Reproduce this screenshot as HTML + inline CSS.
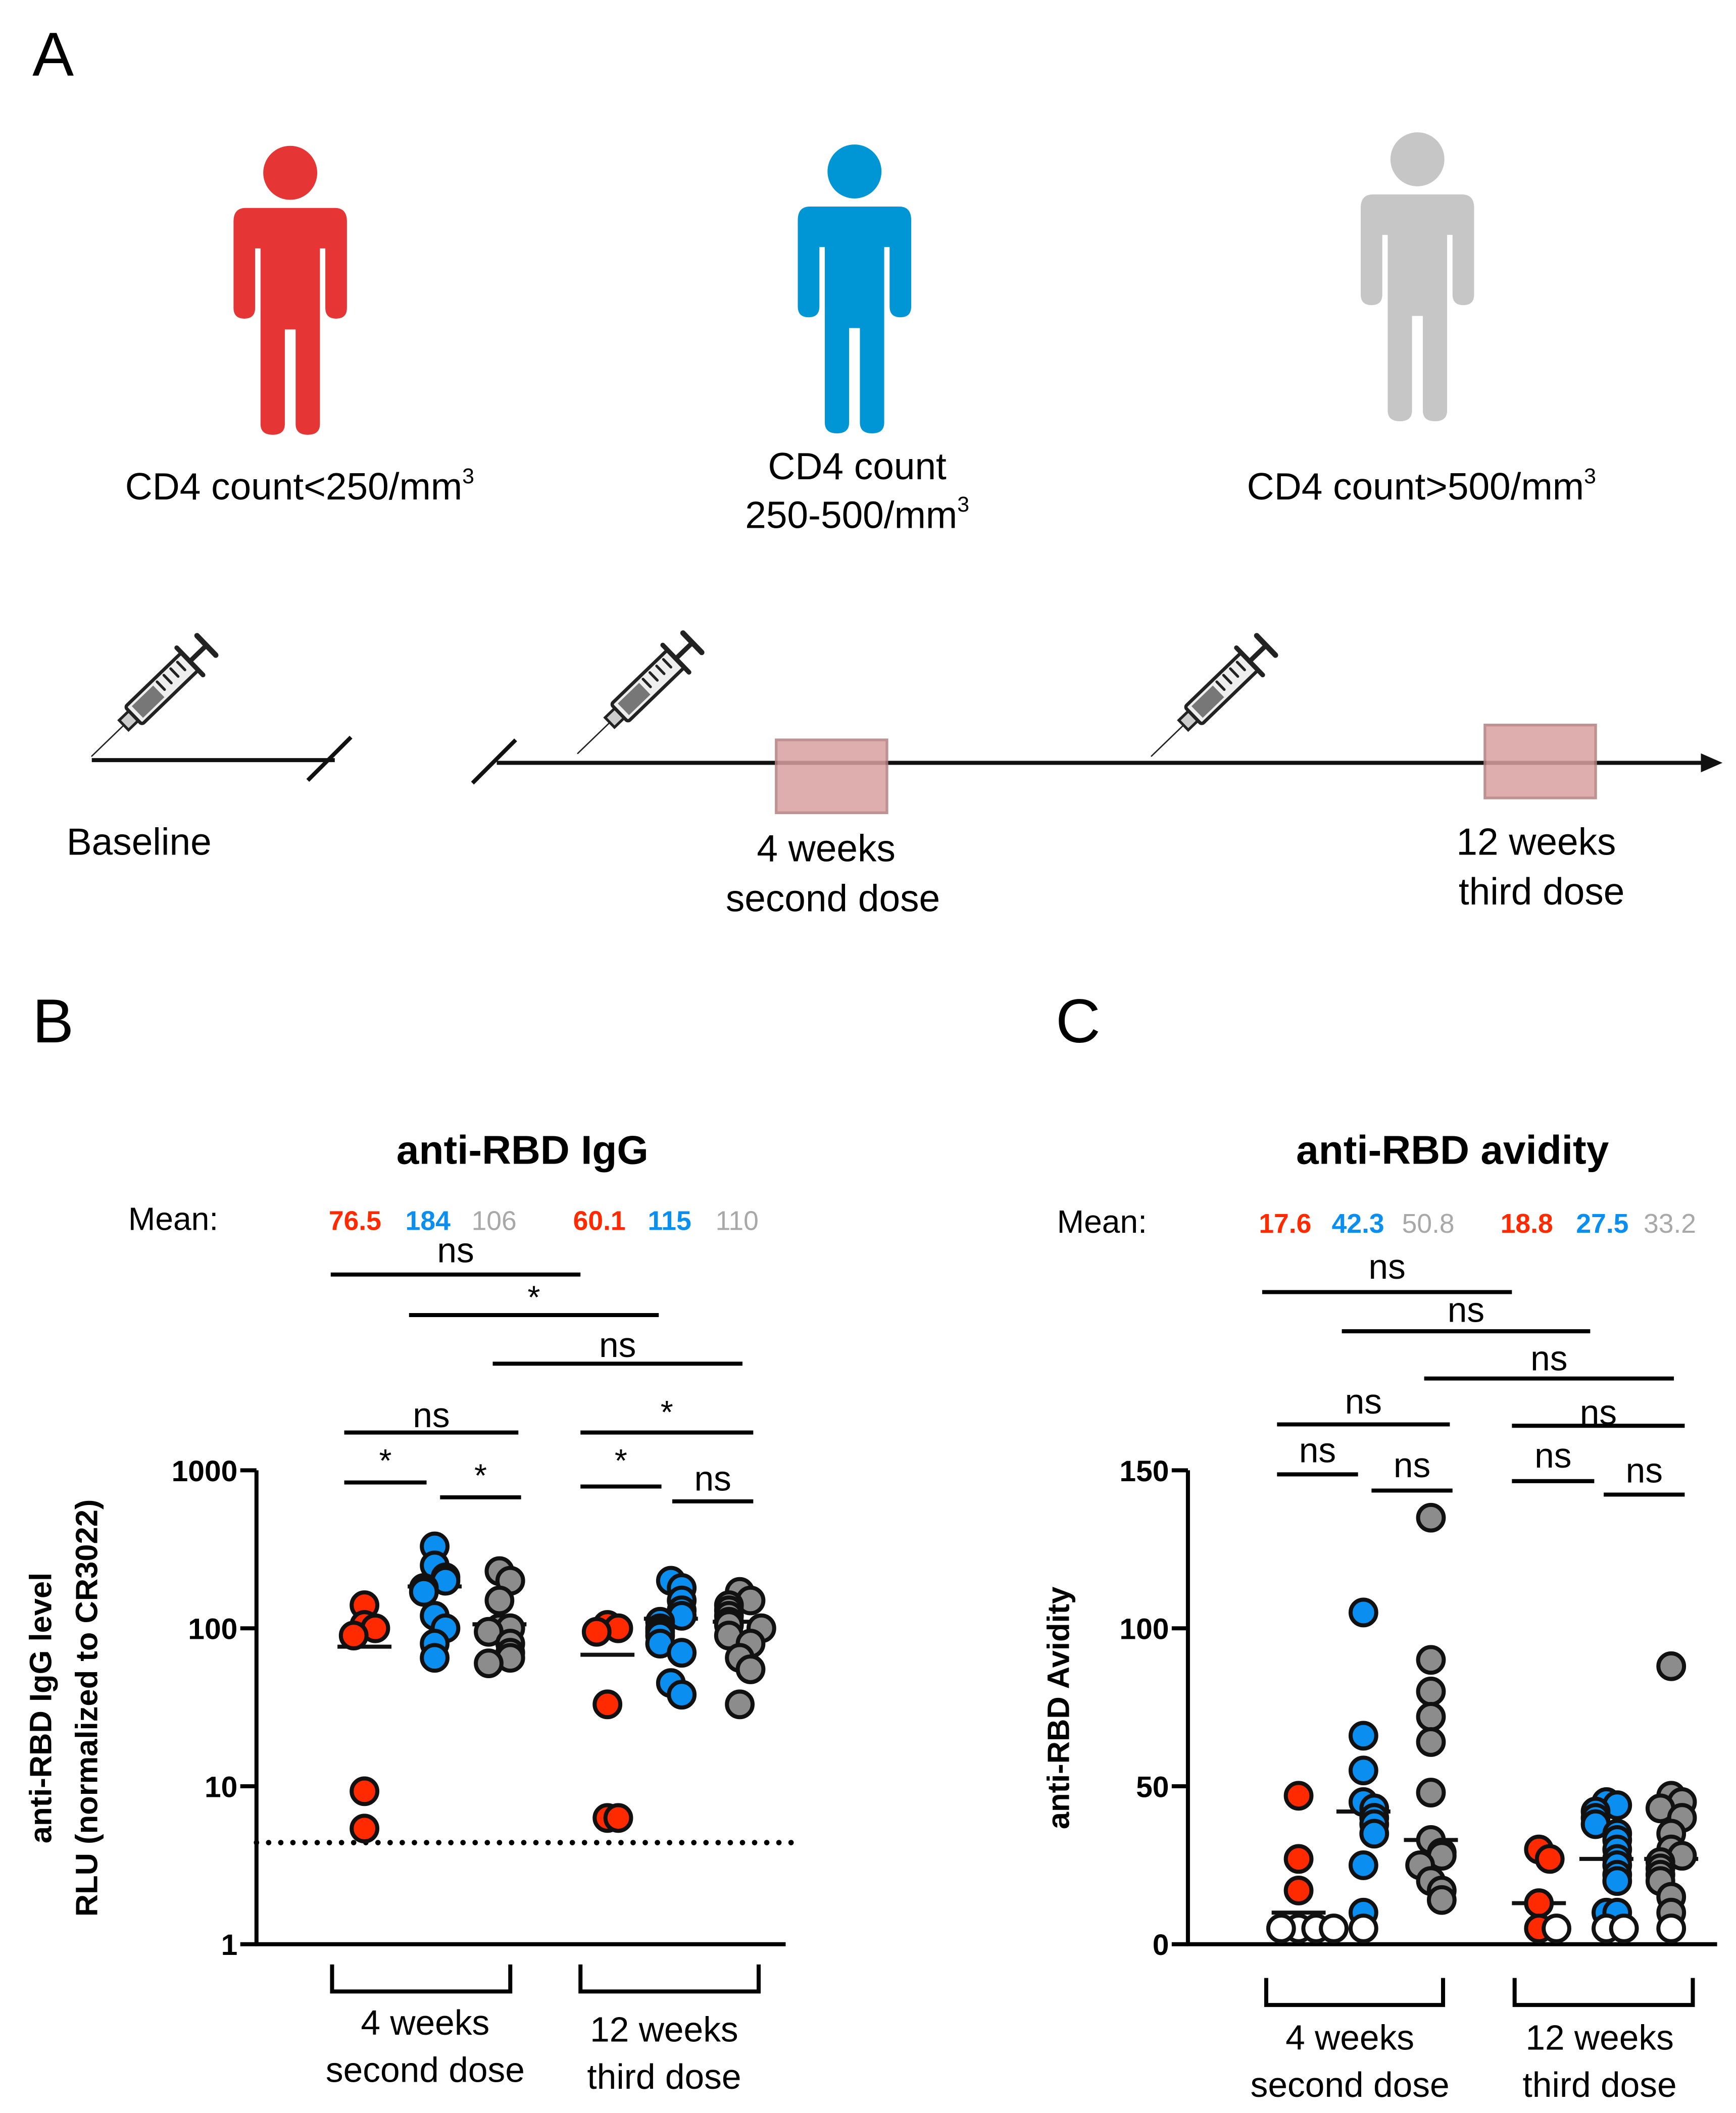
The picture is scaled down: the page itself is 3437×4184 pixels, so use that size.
<!DOCTYPE html>
<html><head><meta charset="utf-8"><style>
html,body{margin:0;padding:0;background:#fff}
svg{display:block}
text{font-family:"Liberation Sans",sans-serif}
</style></head><body>
<svg id="fig" width="3437" height="4184" viewBox="0 0 1286 1565" preserveAspectRatio="none" xmlns="http://www.w3.org/2000/svg">
<rect width="1286" height="1565" fill="#fff"/>
<defs>
<g id="person">
<circle cx="0" cy="0" r="20"/>
<path d="M-33,26 H33 Q42,26 42,36 V100 Q42,108 34,108 Q26,108 26,100 V56 H22 V186 Q22,194 13,194 Q4,194 4,186 V116 H-4 V186 Q-4,194 -13,194 Q-22,194 -22,186 V56 H-26 V100 Q-26,108 -34,108 Q-42,108 -42,100 V36 Q-42,26 -33,26 Z"/>
</g>
<g id="syringe" stroke="#222" stroke-linecap="round">
<line x1="0" y1="0" x2="34" y2="0" stroke-width="1"/>
<rect x="33" y="-5" width="10" height="10" fill="#ccc" stroke-width="2"/>
<rect x="43" y="-9" width="58" height="18" rx="2" fill="#eee" stroke-width="2.5"/>
<rect x="47" y="-6" width="22" height="12" fill="#777" stroke="none"/>
<line x1="73" y1="-6" x2="73" y2="2" stroke-width="2"/>
<line x1="80" y1="-6" x2="80" y2="2" stroke-width="2"/>
<line x1="87" y1="-6" x2="87" y2="2" stroke-width="2"/>
<line x1="94" y1="-6" x2="94" y2="2" stroke-width="2"/>
<line x1="101" y1="-14" x2="101" y2="14" stroke-width="3.5"/>
<line x1="101" y1="0" x2="118" y2="0" stroke-width="3.5"/>
<line x1="118" y1="-10" x2="118" y2="10" stroke-width="4"/>
</g>
</defs>

<text x="24" y="56" font-size="46">A</text>
<use href="#person" x="215" y="128" fill="#e53535"/>
<use href="#person" x="633" y="127" fill="#0096d6"/>
<use href="#person" x="1050" y="118" fill="#c6c6c6"/>
<text x="222" y="370" font-size="28" text-anchor="middle">CD4 count&lt;250/mm<tspan font-size="16" dy="-12">3</tspan></text>
<text x="635" y="355" font-size="28" text-anchor="middle">CD4 count</text>
<text x="635" y="391" font-size="28" text-anchor="middle">250-500/mm<tspan font-size="16" dy="-12">3</tspan></text>
<text x="1053" y="370" font-size="28" text-anchor="middle">CD4 count&gt;500/mm<tspan font-size="16" dy="-12">3</tspan></text>

<g stroke="#111" stroke-width="3" fill="none">
<line x1="68" y1="563" x2="248" y2="563"/>
<line x1="228" y1="578" x2="260" y2="546"/>
<line x1="350" y1="580" x2="382" y2="548"/>
<line x1="368" y1="565" x2="1262" y2="565"/>
<path d="M1260,558 L1276,565 L1260,572 Z" fill="#111" stroke="none"/>
</g>
<rect x="575" y="548" width="82" height="54" fill="#d9a0a0" stroke="#b57f7f" stroke-width="2" opacity="0.85"/>
<rect x="1100" y="537" width="82" height="54" fill="#d9a0a0" stroke="#b57f7f" stroke-width="2" opacity="0.85"/>
<use href="#syringe" transform="translate(68,560) rotate(-44)"/>
<use href="#syringe" transform="translate(428,558) rotate(-44)"/>
<use href="#syringe" transform="translate(853,560) rotate(-44)"/>
<text x="103" y="633" font-size="28" text-anchor="middle">Baseline</text>
<text x="612" y="638" font-size="28" text-anchor="middle">4 weeks</text>
<text x="617" y="675" font-size="28" text-anchor="middle">second dose</text>
<text x="1138" y="633" font-size="28" text-anchor="middle">12 weeks</text>
<text x="1142" y="670" font-size="28" text-anchor="middle">third dose</text>

<text x="24" y="772" font-size="46">B</text>
<text x="782" y="772" font-size="46">C</text>
<g id="chartB"></g>
<g id="chartC"></g>
</svg>
<script>
const NS='http://www.w3.org/2000/svg';
const groupColors=['#ff2a00','#0a8ff0','#8c8c8c','#ff2a00','#0a8ff0','#8c8c8c'];
const meanColors=['#ff2a00','#0a8ff0','#a8a8a8','#ff2a00','#0a8ff0','#a8a8a8'];
// Panel B data (IgG RLU)
const bMeans=['76.5','184','106','60.1','115','110'];
const bMeanLines=[76.5,184,106,68,115,110];
const bRed1=[140,105,100,90,9.3,5.4];
const bBlue1=[330,250,210,200,180,170,120,100,80,65];
const bGray1=[230,200,150,100,100,95,80,70,65,60];
const bRed2=[105,100,95,33,6.3,6.3];
const bBlue2=[200,180,150,130,120,110,100,95,90,80,70,45,38];
const bGray2=[170,150,140,130,120,110,105,100,90,80,65,55,33];
const bTicks=[1,10,100,1000];
const bCutoff=4.4;
// Panel C data (avidity)
const cMeans=['17.6','42.3','50.8','18.8','27.5','33.2'];
const cMeanLines=[10,42,33,13,27,27];
const cRed1=[47,27,17];
const cRed1Open=[5,5,5,5];
const cBlue1=[105,66,55,45,43,40,38,35,25,10];
const cBlue1Open=[5];
const cGray1=[135,90,80,72,64,48,33,29,28,25,20,17,14];
const cRed2=[30,27,13,5];
const cRed2Open=[5];
const cBlue2=[45,44,42,40,38,35,33,30,27,25,22,20,10,10];
const cBlue2Open=[5,5];
const cGray2=[88,47,45,43,40,35,30,28,26,24,22,20,15,10];
const cGray2Open=[5];
const cTicks=[0,50,100,150];

function el(tag,attrs,parent,txt){const e=document.createElementNS(NS,tag);for(const k in attrs)e.setAttribute(k,attrs[k]);if(txt!==undefined)e.textContent=txt;parent.appendChild(e);return e;}

function drawPanel(g,cfg){
  const {x0,x1,yTop,yBot,scale,ticks,centers}=cfg;
  const ya=el('line',{x1:x0,y1:yTop,x2:x0,y2:yBot,stroke:'#000','stroke-width':3},g);
  
  
  const xa=el('line',{x1:x0-1,y1:yBot,x2:x1,y2:yBot,stroke:'#000','stroke-width':3},g);
  
  
  ticks.forEach(t=>{
    const y=scale(t);
    const tk=el('line',{x1:x0-12,y1:y,x2:x0,y2:y,stroke:'#000','stroke-width':3},g);
    
    
    const tl=el('text',{x:x0-14,y:y+8,'font-size':22,'font-weight':'bold','text-anchor':'end'},g,String(t));
    
    
  });
  const ti=el('text',{x:cfg.titleX,y:862,'font-size':30,'font-weight':'bold','text-anchor':'middle'},g,cfg.title);
  
  
  const mt=el('text',{x:cfg.meanX,y:cfg.meanY,'font-size':24},g,'Mean:');
  
  
  cfg.means.forEach((m,i)=>{
    const t=el('text',{x:cfg.meanXs[i],y:cfg.meanY,'font-size':20,'font-weight':i%3==2?'normal':'bold','text-anchor':'middle',fill:meanColors[i]},g,m);
    
    
  });
  cfg.groups.forEach((grp,gi)=>{
    const cx=centers[gi];
    const placed=[];
    const all=grp.filled.map(v=>({v,open:false})).concat(grp.open.map(v=>({v,open:true})));
    const ml=el('line',{x1:cx-20,y1:scale(cfg.meanLines[gi]),x2:cx+20,y2:scale(cfg.meanLines[gi]),stroke:'#111','stroke-width':3},g);
    
    
    all.forEach(p=>{
      const y=scale(p.v);
      const near=placed.filter(q=>Math.abs(q.y-y)<10).length;
      const off=near===0?0:(near%2===1?1:-1)*Math.ceil(near/2)*(p.open?13:8);
      const x=cx+off;
      placed.push({y});
      const c=el('circle',{cx:x,cy:y,r:9.5,fill:p.open?'#fff':groupColors[gi],stroke:'#111','stroke-width':3},g);
      
      
    });
  });
  cfg.sig.forEach(s=>{
    const l=el('line',{x1:s[0],y1:s[2],x2:s[1],y2:s[2],stroke:'#000','stroke-width':3},g);
    
    
    const t=el('text',{x:(s[0]+s[1])/2,y:s[3],'font-size':s[4]==='*'?24:26,'text-anchor':'middle'},g,s[4]);
    
    
  });
  cfg.brackets.forEach(b=>{
    const p=el('path',{d:`M${b[0]},${b[2]-20} V${b[2]} H${b[1]} V${b[2]-20}`,fill:'none',stroke:'#000','stroke-width':3},g);
    
    
    const t1=el('text',{x:b[3],y:b[4],'font-size':26,'text-anchor':'middle'},g,b[5]);
    
    
    const t2=el('text',{x:b[3],y:b[4]+35,'font-size':26,'text-anchor':'middle'},g,b[6]);
    
    
  });
}

const gB=document.getElementById('chartB');
const scaleB=v=>1440-117*Math.log10(v);
const dl=el('line',{x1:190,y1:scaleB(bCutoff),x2:590,y2:scaleB(bCutoff),stroke:'#000','stroke-width':4,'stroke-dasharray':'0 9','stroke-linecap':'round'},gB);


drawPanel(gB,{x0:190,x1:582,yTop:1089,yBot:1440,scale:scaleB,ticks:bTicks,
  centers:[270,322,370,450,497,548],title:'anti-RBD IgG',titleX:387,means:bMeans,meanLines:bMeanLines,
  meanX:95,meanY:911,meanXs:[263,317,366,444,496,546],
  groups:[{filled:bRed1,open:[]},{filled:bBlue1,open:[]},{filled:bGray1,open:[]},{filled:bRed2,open:[]},{filled:bBlue2,open:[]},{filled:bGray2,open:[]}],
  sig:[[245,430,944,935,'ns'],[303,488,974,969,'*'],[365,550,1010,1005,'ns'],[255,384,1061,1057,'ns'],[255,316,1098,1090,'*'],[326,386,1109,1101,'*'],[430,558,1061,1054,'*'],[430,490,1101,1090,'*'],[498,558,1112,1104,'ns']],
  brackets:[[246,378,1475,315,1507,'4 weeks','second dose'],[430,562,1475,492,1512,'12 weeks','third dose']]});
const yb1=el('text',{transform:'translate(38,1265) rotate(-90)','font-size':23,'font-weight':'bold','text-anchor':'middle'},gB,'anti-RBD IgG level');


const yb2=el('text',{transform:'translate(72,1265) rotate(-90)','font-size':23,'font-weight':'bold','text-anchor':'middle'},gB,'RLU (normalized to CR3022)');



const gC=document.getElementById('chartC');
const scaleC=v=>1440-2.34*v;
drawPanel(gC,{x0:880,x1:1272,yTop:1089,yBot:1440,scale:scaleC,ticks:cTicks,
  centers:[962,1010,1060,1140,1190,1238],title:'anti-RBD avidity',titleX:1076,means:cMeans,meanLines:cMeanLines,
  meanX:783,meanY:913,meanXs:[952,1006,1058,1131,1187,1237],
  groups:[{filled:cRed1,open:cRed1Open},{filled:cBlue1,open:cBlue1Open},{filled:cGray1,open:[]},{filled:cRed2,open:cRed2Open},{filled:cBlue2,open:cBlue2Open},{filled:cGray2,open:cGray2Open}],
  sig:[[935,1120,957,947,'ns'],[994,1178,986,979,'ns'],[1055,1240,1021,1015,'ns'],[946,1074,1055,1047,'ns'],[946,1006,1092,1083,'ns'],[1016,1076,1104,1094,'ns'],[1120,1248,1056,1055,'ns'],[1120,1181,1097,1087,'ns'],[1188,1248,1107,1098,'ns']],
  brackets:[[938,1069,1485,1000,1518,'4 weeks','second dose'],[1122,1254,1485,1185,1518,'12 weeks','third dose']]});
const yc=el('text',{transform:'translate(792,1265) rotate(-90)','font-size':23,'font-weight':'bold','text-anchor':'middle'},gC,'anti-RBD Avidity');


</script>
</body></html>
